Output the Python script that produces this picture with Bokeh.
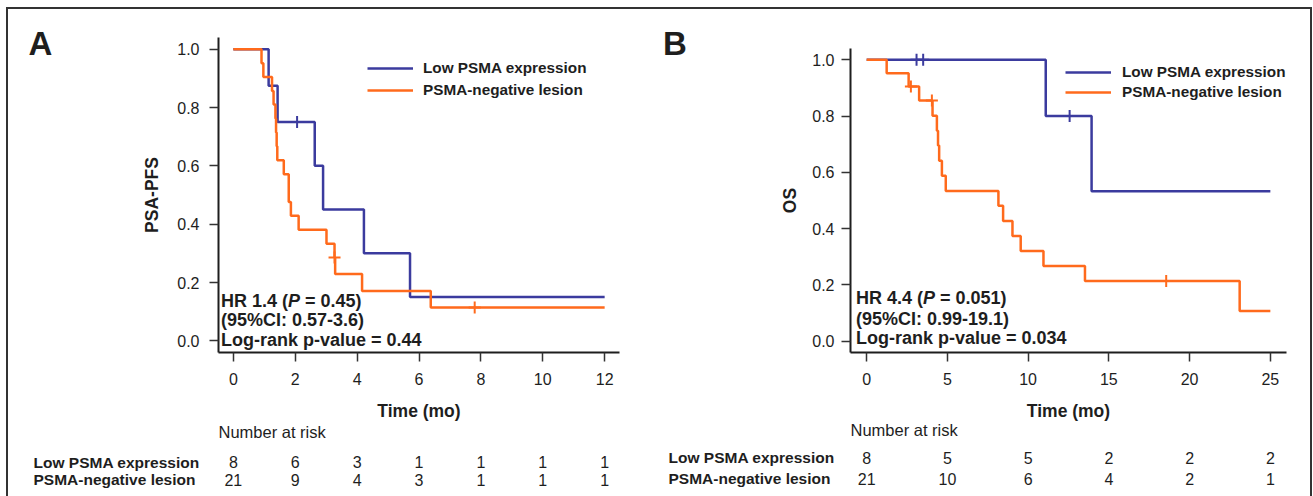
from bokeh.plotting import figure
from bokeh.models import (ColumnDataSource, Div, FixedTicker, Label, LabelSet,
                          Legend, LegendItem, PrintfTickFormatter, Range1d)
from bokeh.core.properties import value
from bokeh.embed import file_html
from bokeh.resources import INLINE

FONT = "Liberation Sans"
BLUE = "#3b3b9e"
ORANGE = "#ff6a1c"
INK = "#1e1e1e"

series_names = ["Low PSMA expression", "PSMA-negative lesion"]
y_ticks = [0.0, 0.2, 0.4, 0.6, 0.8, 1.0]

# ---- Panel A: PSA progression-free survival (months) ----
a_x_ticks = [0, 2, 4, 6, 8, 10, 12]
a_low_t = [0, 1.14, 1.43, 2.63, 2.90, 4.22, 5.71, 12.0]
a_low_s = [1.0, 0.875, 0.75, 0.60, 0.45, 0.30, 0.15, 0.15]
a_low_cens_t = [2.06]
a_low_cens_s = [0.75]
a_neg_t = [0, 0.91, 0.97, 1.25, 1.30, 1.36, 1.38, 1.40, 1.42, 1.63, 1.79,
           1.86, 2.11, 3.01, 3.27, 3.29, 4.16, 6.38, 12.0]
a_neg_s = [1.0, 0.952, 0.905, 0.857, 0.810, 0.762, 0.714, 0.667, 0.619,
           0.571, 0.476, 0.429, 0.381, 0.333, 0.286, 0.229, 0.171, 0.114, 0.114]
a_neg_cens_t = [3.27, 7.80]
a_neg_cens_s = [0.286, 0.114]
a_risk_t = [0, 2, 4, 6, 8, 10, 12]
a_risk_low = [8, 6, 3, 1, 1, 1, 1]
a_risk_neg = [21, 9, 4, 3, 1, 1, 1]
a_stats = ["HR 1.4 (", "P", "= 0.45)", "(95%CI: 0.57-3.6)", "Log-rank p-value = 0.44"]

# ---- Panel B: overall survival (months) ----
b_x_ticks = [0, 5, 10, 15, 20, 25]
b_low_t = [0, 11.09, 13.93, 25.0]
b_low_s = [1.0, 0.80, 0.533, 0.533]
b_low_cens_t = [3.09, 3.50, 12.57]
b_low_cens_s = [1.0, 1.0, 0.80]
b_neg_t = [0, 1.24, 2.60, 3.25, 4.08, 4.35, 4.42, 4.49, 4.66, 4.90, 8.16,
           8.45, 9.03, 9.54, 10.95, 13.52, 23.10, 25.0]
b_neg_s = [1.0, 0.952, 0.905, 0.855, 0.801, 0.748, 0.695, 0.641, 0.588,
           0.534, 0.481, 0.427, 0.374, 0.321, 0.267, 0.214, 0.107, 0.107]
b_neg_cens_t = [2.74, 4.04, 18.55]
b_neg_cens_s = [0.905, 0.855, 0.214]
b_risk_t = [0, 5, 10, 15, 20, 25]
b_risk_low = [8, 5, 5, 2, 2, 2]
b_risk_neg = [21, 10, 6, 4, 2, 1]
b_stats = ["HR 4.4 (", "P", "= 0.051)", "(95%CI: 0.99-19.1)", "Log-rank p-value = 0.034"]

PAGE_W, PAGE_H = 1313, 496
MAIN_BOTTOM = 426      # lower edge of the survival plots' canvases


def placed(x, y):
    return {"position": "absolute", "left": f"{x}px", "top": f"{y}px"}


def add_text(p, x, y, text, size, style="bold", align="left", baseline="middle"):
    p.add_layout(Label(x=x, y=y, x_units="screen", y_units="screen", text=text,
                       text_font=FONT, text_font_size=size, text_font_style=style,
                       text_color=INK, text_align=align, text_baseline=baseline))


def km_panel(page_x, page_y, width, left, right, top, bottom, xmax, xticks,
             ylabel, ylabel_standoff, ytick_standoff, low, neg, low_cens,
             neg_cens, legend_xy, legend_spacing, legend_standoff, stats,
             stats_x, stats_y):
    x0, x1 = -0.04 * xmax, 1.04 * xmax
    p = figure(width=width, height=MAIN_BOTTOM - page_y, x_range=(x0, x1),
               y_range=(-0.04, 1.04), output_backend="svg",
               toolbar_location=None,
               min_border_left=left, min_border_right=right,
               min_border_top=top, min_border_bottom=bottom,
               x_axis_label="Time (mo)", y_axis_label=ylabel,
               styles=placed(page_x, page_y))
    p.grid.visible = False
    p.outline_line_color = None
    p.background_fill_color = "white"
    p.border_fill_color = "white"
    p.xaxis.ticker = FixedTicker(ticks=xticks)
    p.yaxis.ticker = FixedTicker(ticks=y_ticks)
    p.yaxis.formatter = PrintfTickFormatter(format="%.1f")
    for ax in (p.xaxis[0], p.yaxis[0]):
        ax.axis_line_width = 2
        ax.axis_line_color = INK
        ax.major_tick_in = 0
        ax.major_tick_out = 9
        ax.major_tick_line_width = 1.5
        ax.major_tick_line_color = "#333333"
        ax.minor_tick_line_color = None
        ax.major_label_text_font = FONT
        ax.major_label_text_font_size = "16px"
        ax.major_label_text_color = INK
        ax.axis_label_text_font = FONT
        ax.axis_label_text_font_size = "17.5px"
        ax.axis_label_text_font_style = "bold"
        ax.axis_label_text_color = INK
    p.xaxis.major_label_standoff = 11
    p.xaxis.axis_label_standoff = 13
    p.yaxis.major_label_standoff = ytick_standoff
    p.yaxis.axis_label_standoff = ylabel_standoff

    r_low = p.step(x=low[0], y=low[1], mode="after", line_width=2.5,
                   line_color=BLUE)
    p.scatter(x=low_cens[0], y=low_cens[1], marker="cross", size=12,
              line_width=2, line_color=BLUE)
    r_neg = p.step(x=neg[0], y=neg[1], mode="after", line_width=2.5,
                   line_color=ORANGE)
    p.scatter(x=neg_cens[0], y=neg_cens[1], marker="cross", size=12,
              line_width=2, line_color=ORANGE)

    legend = Legend(items=[LegendItem(label=series_names[0], renderers=[r_low]),
                           LegendItem(label=series_names[1], renderers=[r_neg])],
                    location=legend_xy, glyph_width=46, glyph_height=20,
                    label_height=20, label_standoff=legend_standoff,
                    spacing=legend_spacing, padding=0, margin=0,
                    border_line_alpha=0, background_fill_alpha=0,
                    label_text_font=FONT, label_text_font_size="15.3px",
                    label_text_font_style="bold", label_text_color=INK)
    p.add_layout(legend)

    # hazard ratio block, with an italic P
    fs = "18px"
    add_text(p, stats_x, stats_y[0], stats[0], fs)
    add_text(p, stats_x + 67.0, stats_y[0], stats[1], fs, style="bold italic")
    add_text(p, stats_x + 84.0, stats_y[0], stats[2], fs)
    add_text(p, stats_x, stats_y[1], stats[3], fs)
    add_text(p, stats_x, stats_y[2], stats[4], fs)

    # same time scale stretched over the full page width (for the risk table)
    upp = (x1 - x0) / (width - left - right)
    frame_l = page_x + left
    frame_r = page_x + width - right
    page_range = Range1d(x0 - frame_l * upp, x1 + (PAGE_W - frame_r) * upp)
    return p, page_range


pA, page_range_a = km_panel(page_x=8, page_y=9, width=642, left=210, right=31,
                            top=28, bottom=74, xmax=12, xticks=a_x_ticks,
                            ylabel="PSA-PFS", ylabel_standoff=12,
                            ytick_standoff=10,
                            low=(a_low_t, a_low_s), neg=(a_neg_t, a_neg_s),
                            low_cens=(a_low_cens_t, a_low_cens_s),
                            neg_cens=(a_neg_cens_t, a_neg_cens_s),
                            legend_xy=(149, 252), legend_spacing=2,
                            legend_standoff=10, stats=a_stats, stats_x=2.4,
                            stats_y=(52, 32.5, 13))

pB, page_range_b = km_panel(page_x=650, page_y=20, width=660, left=200,
                            right=24, top=28, bottom=74, xmax=25,
                            xticks=b_x_ticks, ylabel="OS", ylabel_standoff=9,
                            ytick_standoff=7,
                            low=(b_low_t, b_low_s), neg=(b_neg_t, b_neg_s),
                            low_cens=(b_low_cens_t, b_low_cens_s),
                            neg_cens=(b_neg_cens_t, b_neg_cens_s),
                            legend_xy=(215, 250), legend_spacing=0,
                            legend_standoff=11, stats=b_stats, stats_x=5.4,
                            stats_y=(54.5, 33.7, 14.2))

# Transparent page-size layer for panel letters and number-at-risk tables.
over = figure(width=PAGE_W, height=PAGE_H, x_range=(0, 1), y_range=(0, 1),
              output_backend="svg", toolbar_location=None, min_border=0,
              styles=placed(0, 0))
over.axis.visible = False
over.grid.visible = False
over.outline_line_color = None
over.background_fill_alpha = 0
over.border_fill_alpha = 0
over.extra_x_ranges = {"a": page_range_a, "b": page_range_b}


def from_top(y):
    return PAGE_H - y


add_text(over, 28, from_top(43), "A", "33px", baseline="alphabetic")
add_text(over, 662.5, from_top(43), "B", "33px", baseline="alphabetic")


def risk_table(rng, risk_t, risk_low, risk_neg, title_x, label_x, rows_y):
    add_text(over, title_x, from_top(rows_y[0]), "Number at risk", "16.5px",
             style="normal")
    for name, counts, yy in ((series_names[0], risk_low, rows_y[1]),
                             (series_names[1], risk_neg, rows_y[2])):
        add_text(over, label_x, from_top(yy), name, "15.5px")
        src = ColumnDataSource(dict(t=risk_t, n=[str(c) for c in counts]))
        over.add_layout(LabelSet(x="t", y=from_top(yy), y_units="screen",
                                 x_range_name=rng, text="n", source=src,
                                 text_font=value(FONT),
                                 text_font_size=value("16px"), text_color=INK,
                                 text_align="center", text_baseline="middle"))


risk_table("a", a_risk_t, a_risk_low, a_risk_neg, title_x=218, label_x=33,
           rows_y=(431.7, 461.7, 479.3))
risk_table("b", b_risk_t, b_risk_low, b_risk_neg, title_x=850, label_x=668,
           rows_y=(429.5, 457, 478))

frame_box = Div(text="", width=1302, height=487, margin=0,
                styles={**placed(6, 7), "box-sizing": "content-box",
                        "border-top": "2px solid #333333",
                        "border-left": "2px solid #333333",
                        "border-right": "2px solid #333333"})

roots = [frame_box, pA, pB, over]
open("out.html", "w").write(file_html(roots, INLINE))
